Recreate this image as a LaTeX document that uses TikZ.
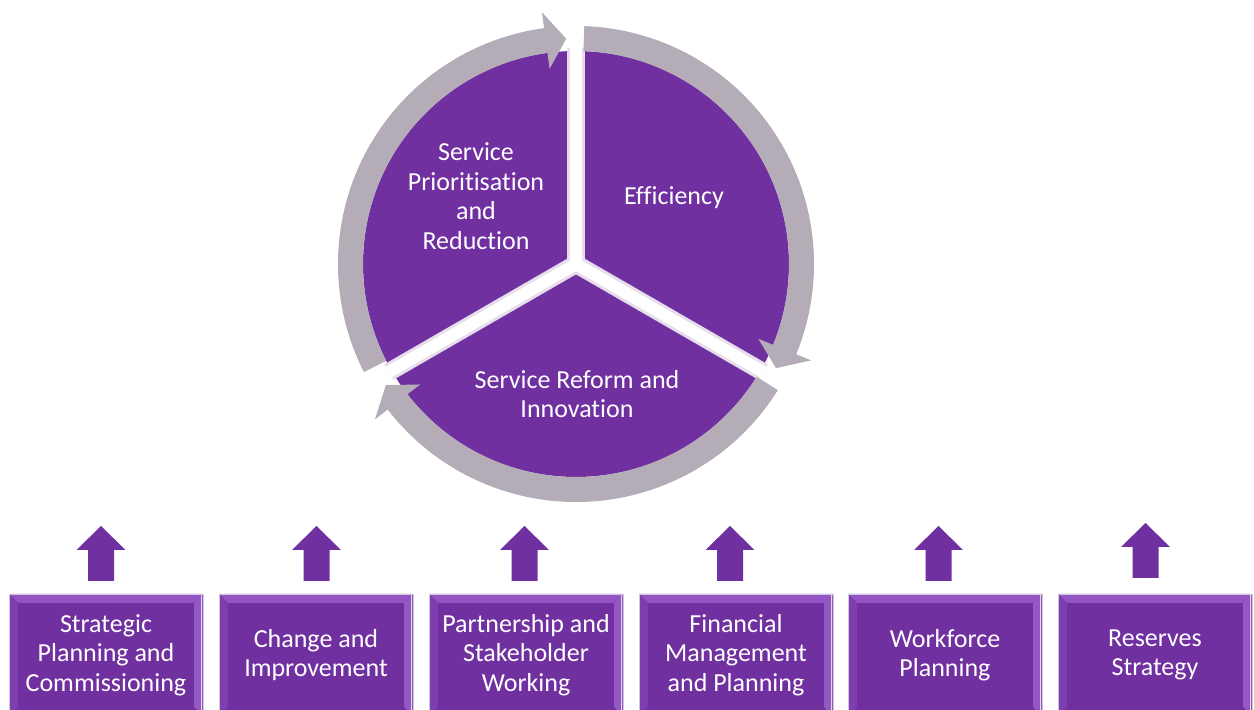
\documentclass[tikz,border=0pt]{standalone}
\usepackage{fontspec}
\setmainfont{Carlito}[Ligatures={NoCommon}]
\usepackage{xcolor}

\definecolor{vio}{HTML}{7030A0}
\definecolor{ringgray}{HTML}{B4ACB6}
\definecolor{gapedge}{HTML}{E6DEEC}
\definecolor{bevtop}{HTML}{9554C4}
\definecolor{bevleft}{HTML}{7F3EB0}
\definecolor{bevright}{HTML}{9358C2}
\definecolor{boxedge}{HTML}{CFC8D6}

\tikzset{
  wheeltext/.style={text=white, align=center, inner sep=0pt,
    font=\fontsize{26}{29.5}\selectfont},
  areabox/.style={minimum width=194pt, minimum height=122pt, inner sep=0pt,
    fill=vio, draw=boxedge, line width=0.8pt, text=white, align=center,
    font=\fontsize{26}{29.5}\selectfont,
    path picture={
      \fill[bevtop] (path picture bounding box.north west)
        -- (path picture bounding box.north east)
        -- ([xshift=-9pt,yshift=-9pt]path picture bounding box.north east)
        -- ([xshift=9pt,yshift=-9pt]path picture bounding box.north west) -- cycle;
      \fill[bevleft] (path picture bounding box.north west)
        -- ([xshift=9pt,yshift=-9pt]path picture bounding box.north west)
        -- ([xshift=9pt,yshift=9pt]path picture bounding box.south west)
        -- (path picture bounding box.south west) -- cycle;
      \fill[bevright] (path picture bounding box.north east)
        -- ([xshift=-9pt,yshift=-9pt]path picture bounding box.north east)
        -- ([xshift=-9pt,yshift=9pt]path picture bounding box.south east)
        -- (path picture bounding box.south east) -- cycle;
      \draw[white!80!vio, line width=1.5pt]
        ([xshift=-1.5pt]path picture bounding box.north east)
        -- ([xshift=-1.5pt]path picture bounding box.south east);
    }},
}

\begin{document}
\begin{tikzpicture}[x=1pt,y=1pt]
    \clip (0,0) rectangle (1254,710);
    \fill[white] (0,0) rectangle (1254,710);

    % wheel
    \coordinate (c) at (576,446);
    \fill[vio] (c) circle[radius=213];
    \foreach \a in {90,210,330}
        \draw[line width=18pt, gapedge] (c) -- ++(\a:216);
    \foreach \a in {90,210,330}
        \draw[line width=12pt, white] (c) -- ++(\a:216);

    % ring arrows
    \begin{scope}[shift={(c)}]
    \foreach \s/\t in {88/-27.5, -32/-147.5, -153/-267.5}{
        \pgfmathsetmacro\b{\t+5.2}
        \fill[ringgray] (\s:238) arc[start angle=\s, end angle=\b, radius=238]
            -- (\b:254) -- (\t:225.5) -- (\b:197) -- (\b:213)
            arc[start angle=\b, end angle=\s, radius=213] -- cycle;
    }
    \end{scope}

    \node[wheeltext] (prio) at (476,514) {Service\\Prioritisation\\and\\Reduction};
    \node[wheeltext] (eff) at (674,512) {Efficiency};
    \node[wheeltext] (reform) at (577,316) {Service Reform and\\Innovation};

    % boxes
    \foreach \n/\x/\txt in {1/106/{Strategic\\Planning and\\Commissioning},
                            2/316/{Change and\\Improvement},
                            3/526/{Partnership and\\Stakeholder\\Working},
                            4/736/{Financial\\Management\\and Planning},
                            5/945/{Workforce\\Planning},
                            6/1155/{Reserves\\Strategy}}
        \node[areabox] (box\n) at (\x,55) {\txt};

    % up arrows
    \foreach \x/\dy in {101/0, 316.5/0, 524.5/0, 730/0, 938.5/0, 1145.5/3}
        \fill[vio] ({\x-13},{129+\dy}) -- ({\x-13},{160+\dy}) -- ({\x-24.5},{160+\dy})
            -- ({\x},{184+\dy}) -- ({\x+24.5},{160+\dy}) -- ({\x+13},{160+\dy})
            -- ({\x+13},{129+\dy}) -- cycle;

\end{tikzpicture}
\end{document}
